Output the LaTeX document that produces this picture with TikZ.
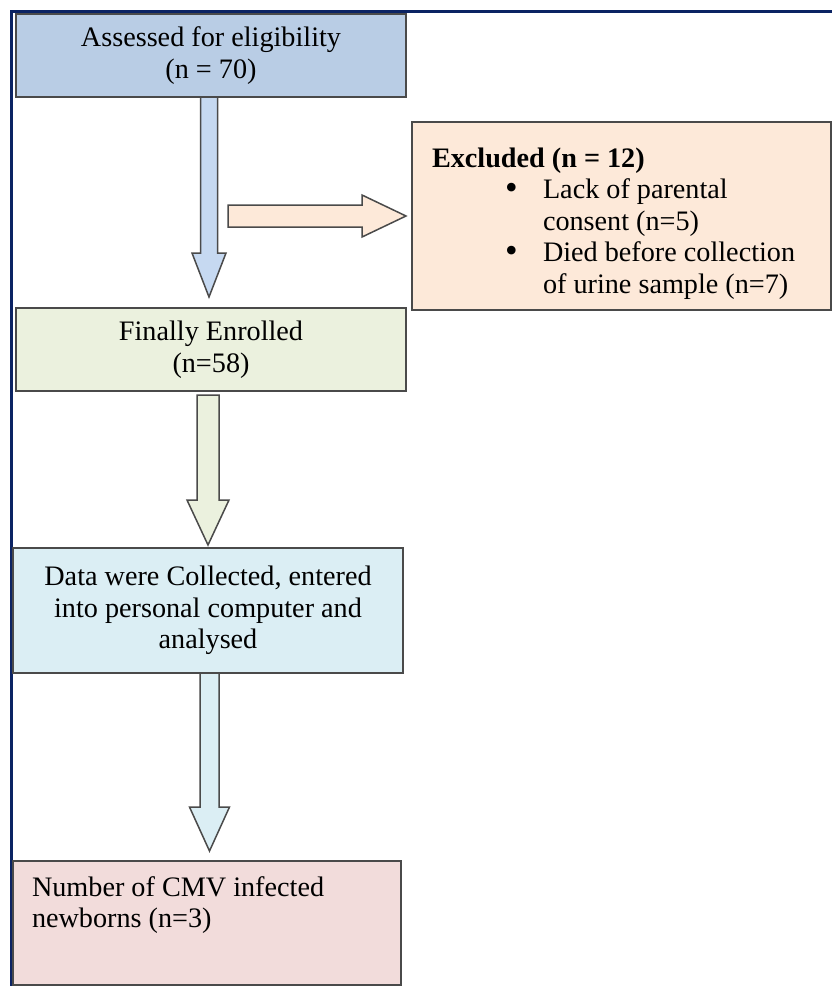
\documentclass[tikz,border=0pt]{standalone}
\usepackage{fontspec}
\setmainfont{Liberation Serif}
\usetikzlibrary{calc,positioning}

\definecolor{framenavy}{HTML}{0B2363}
\definecolor{edgegray}{HTML}{4A4A4A}
\definecolor{assessfill}{HTML}{B9CDE5}
\definecolor{assessarrow}{HTML}{C6D9F1}
\definecolor{enrolfill}{HTML}{EBF1DE}
\definecolor{datafill}{HTML}{DBEEF4}
\definecolor{cmvfill}{HTML}{F2DCDB}
\definecolor{exclfill}{HTML}{FDE9D9}

% block arrow pointing down: from, to, shaft half width, head half width, head length, fill
\newcommand{\fatdown}[6]{%
  \draw[blockarrow, fill=#6] ($(#1)+(-#3,0)$) -- ($(#2)+(-#3,-#5)$) -- ($(#2)+(-#4,-#5)$)
    -- (#2) -- ($(#2)+(#4,-#5)$) -- ($(#2)+(#3,-#5)$) -- ($(#1)+(#3,0)$) -- cycle;}
\newcommand{\exclbullet}{\makebox[38pt][l]{\raisebox{-1pt}{\fontsize{36pt}{31.6pt}\selectfont\textbullet}}}

\begin{document}
\begin{tikzpicture}[x=1pt, y=-1pt,
    box/.style={draw=edgegray, line width=1.5pt, rectangle, inner sep=0pt, outer sep=0pt,
      font=\fontsize{28.2pt}{31.6pt}\selectfont},
    blockarrow/.style={draw=edgegray, line width=1.5pt, line join=miter}]
  \useasboundingbox (0,0) rectangle (832,986);
  \draw[framenavy, line width=3pt] (832,11.5) -- (11.5,11.5) -- (11.5,986);

  \node[box, fill=assessfill, minimum width=390pt, minimum height=83pt, align=center]
    (assess) at (211,55.5) {Assessed for eligibility\\(n = 70)};
  \node[box, fill=enrolfill, minimum width=390pt, minimum height=83pt, align=center]
    (enrol) at (211,349.5) {Finally Enrolled\\(n=58)};
  \node[box, fill=datafill, minimum width=390pt, minimum height=125pt, align=center]
    (data) at (208,610.5) {Data were Collected, entered\\into personal computer and\\analysed};
  \node[box, fill=cmvfill, minimum width=388pt, minimum height=124pt, anchor=north west]
    (cmv) at (13,861) {\parbox[c][124pt][t]{350pt}{\rule{0pt}{35pt}Number of CMV infected\\newborns (n=3)}};
  \node[box, fill=exclfill, minimum width=419pt, minimum height=188pt, anchor=north west]
    (excl) at (412,122) {\parbox[c][188pt][t]{379pt}{\rule{0pt}{45pt}\textbf{Excluded (n = 12)}\\
      \hspace*{73pt}\exclbullet Lack of parental\\
      \hspace*{111pt}consent (n=5)\\
      \hspace*{73pt}\exclbullet Died before collection\\
      \hspace*{111pt}of urine sample (n=7)}};

  % arrow ends
  \coordinate (a1s) at ($(assess.south)+(-2,0)$);
  \coordinate (a1e) at ($(enrol.north)+(-2,-11)$);
  \coordinate (a2s) at ($(enrol.south)+(-3,4)$);
  \coordinate (a2e) at ($(data.north)+(0,-3)$);
  \coordinate (a3s) at ($(data.south)+(1.5,0)$);
  \coordinate (a3e) at ($(cmv.north)+(2.5,-10)$);
  \coordinate (xs) at (228,216);
  \coordinate (xe) at ($(excl.west)+(-6,0)$);

  \fatdown{a1s}{a1e}{8.5}{17}{44}{assessarrow}
  \fatdown{a2s}{a2e}{11}{21}{45}{enrolfill}
  \fatdown{a3s}{a3e}{9.5}{20}{44}{datafill}
  \draw[blockarrow, fill=exclfill] ($(xs)+(0,-11)$) -- ($(xe)+(-44,-11)$) -- ($(xe)+(-44,-21)$)
    -- (xe) -- ($(xe)+(-44,21)$) -- ($(xe)+(-44,11)$) -- ($(xs)+(0,11)$) -- cycle;
\end{tikzpicture}
\end{document}
